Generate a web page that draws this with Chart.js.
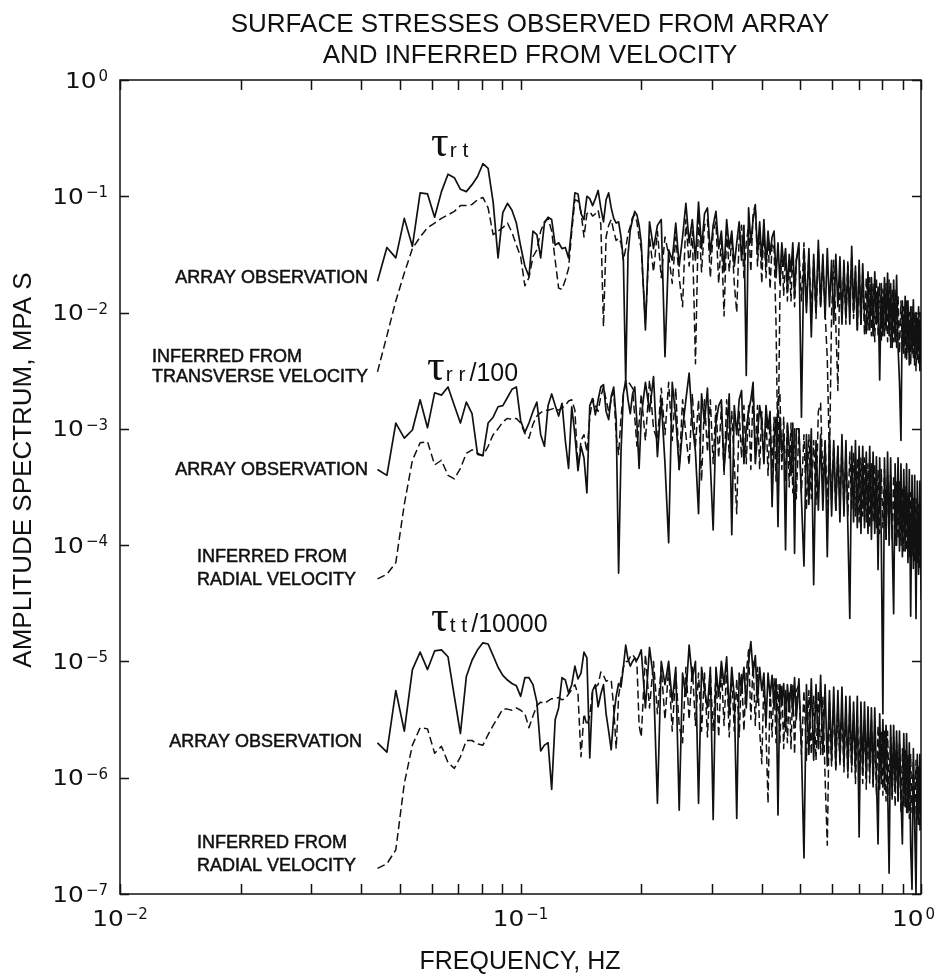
<!DOCTYPE html>
<html><head><meta charset="utf-8">
<script src="https://cdn.jsdelivr.net/npm/chart.js@4.4.1/dist/chart.umd.min.js"></script>
<style>html,body{margin:0;padding:0;background:#fff}canvas{display:block}</style>
</head><body>
<canvas id="c" width="936" height="978"></canvas>
<script>
// ---------- DATA ----------
// Spectra are sampled on FFT bins of width 1/409.6 Hz (bins 18..410)
const BIN_HZ = 1 / 409.6;
const BINS = [];
for (let k = 18; k <= 81; k++) BINS.push(k);
for (let k = 82; k <= 200; k += 2) BINS.push(k);
for (let k = 203; k <= 410; k += 3) BINS.push(k);
const FREQ = BINS.map(k => k * BIN_HZ);

// amplitude values, given as log10 (decade exponent)
const rtArrayLog = [
-1.73,-1.44,-1.53,-1.19,-1.43,-0.97,-0.98,-1.18,-0.96,-0.81,
-0.84,-0.94,-0.96,-0.90,-0.83,-0.72,-0.76,-1.05,-1.53,-1.14,
-1.06,-1.12,-1.23,-1.43,-1.60,-1.69,-1.30,-1.33,-1.53,-1.23,
-1.18,-1.20,-1.42,-1.40,-1.45,-1.44,-1.53,-1.26,-0.97,-0.98,
-1.15,-1.20,-1.00,-1.02,-1.08,-1.02,-0.95,-1.10,-1.22,-1.03,
-0.97,-1.10,-1.19,-1.23,-1.22,-1.35,-1.55,-2.60,-1.50,-1.29,
-1.20,-1.13,-1.16,-1.25,
-1.40,-2.15,-1.22,-1.45,-1.25,-1.20,-2.38,-1.46,-1.55,-1.23,
-1.60,-1.35,-1.06,-1.40,-1.20,-1.55,-1.05,-1.45,-1.15,-1.10,
-1.50,-1.25,-1.13,-1.45,-1.30,-1.65,-1.20,-1.45,-1.30,-1.60,
-1.40,-1.22,-1.55,-1.25,-2.54,-1.10,-1.40,-1.20,-1.08,-1.50,
-1.22,-1.55,-1.20,-1.60,-1.30,-1.50,-1.35,-1.30,-1.70,-1.40,
-1.75,-1.40,-1.60,-1.45,-1.80,-1.50,-1.65,-1.40,-1.85,-1.55,
-1.40,-2.90,-1.45,-2.00,-1.45,-2.21,-1.50,-2.00,-1.38,-1.95,
-1.50,-2.05,-1.45,-1.95,-1.55,-2.10,-1.50,-1.95,-1.52,-2.10,
-1.55,-2.05,-1.60,-2.10,-1.43,-2.00,-1.60,-2.15,-1.55,-2.10,
-1.58,-2.05,-2.18,-1.65,-2.15,-1.70,-2.20,-1.65,-2.10,-1.78,
-2.58,-1.75,-2.20,-1.70,-2.15,-1.66,-2.20,-1.75,-2.30,-1.72,
-2.25,-1.68,-2.30,-2.60,-3.10,-1.90,-2.35,-1.86,-2.40,-1.90,
-2.45,-1.95,-2.35,-1.89,-2.45,-2.00,-2.40,-1.95,-2.50,-2.00];

const rtInferredLog = [
-2.51,-2.20,-1.90,-1.66,-1.45,-1.35,-1.27,-1.23,-1.19,-1.16,
-1.13,-1.08,-1.08,-1.07,-1.03,-1.01,-1.10,-1.33,-1.30,-1.27,
-1.23,-1.31,-1.42,-1.52,-1.77,-1.70,-1.52,-1.46,-1.30,-1.22,
-1.19,-1.30,-1.55,-1.79,-1.80,-1.72,-1.62,-1.30,-1.03,-1.04,
-1.13,-1.35,-1.15,-1.13,-1.17,-1.15,-1.12,-1.24,-2.12,-1.35,
-1.25,-1.20,-1.30,-1.38,-1.36,-1.40,-1.55,-1.45,-1.32,-1.26,
-1.18,-1.16,-1.22,-1.36,
-1.45,-2.09,-1.35,-1.65,-1.30,-1.70,-1.35,-1.50,-1.75,-1.35,
-1.70,-1.95,-1.20,-1.60,-1.30,-2.44,-1.15,-1.65,-1.25,-1.20,
-1.70,-1.30,-1.22,-1.75,-1.35,-2.03,-1.30,-1.65,-1.35,-1.75,
-2.00,-1.35,-1.25,-1.70,-1.40,-1.25,-1.65,-1.15,-1.07,-1.60,
-1.30,-1.75,-1.25,-1.70,-1.35,-1.80,-1.40,-1.45,-2.10,-3.30,
-1.85,-1.45,-1.85,-1.50,-1.90,-1.55,-1.90,-1.45,-1.95,-1.55,
-1.45,-1.90,-1.40,-1.95,-1.50,-2.00,-1.55,-2.05,-1.45,-1.95,
-1.55,-2.00,-2.40,-3.30,-2.00,-1.55,-2.10,-2.67,-1.60,-2.05,
-1.60,-2.10,-1.55,-2.00,-1.50,-2.05,-1.65,-2.15,-1.60,-2.10,
-1.65,-2.20,-1.70,-2.15,-1.70,-2.20,-1.75,-2.25,-1.70,-2.20,
-1.75,-2.25,-1.80,-2.20,-1.75,-2.25,-1.72,-2.30,-1.80,-2.25,
-1.80,-2.30,-1.85,-2.35,-1.90,-2.30,-1.95,-2.40,-1.90,-2.35,
-2.00,-2.45,-1.95,-2.40,-2.00,-2.50,-2.05,-2.45,-2.00,-2.50];

const rrArrayLog = [
-3.35,-3.40,-2.95,-3.08,-3.01,-2.75,-2.99,-2.69,-2.71,-2.64,
-2.80,-2.95,-2.77,-2.87,-3.22,-3.23,-2.95,-2.90,-2.81,-2.80,
-2.73,-2.66,-2.64,-2.93,-3.03,-2.95,-2.85,-2.77,-3.05,-3.15,
-2.80,-2.70,-2.80,-2.89,-2.78,-3.10,-3.34,-2.81,-3.05,-3.36,
-3.15,-3.25,-3.55,-2.80,-2.74,-2.88,-2.75,-2.64,-2.62,-2.85,
-2.92,-2.72,-2.64,-2.92,-4.24,-3.20,-2.70,-2.58,-2.75,-2.87,
-2.70,-2.64,-2.95,-3.34,
-2.90,-2.60,-2.85,-2.55,-3.24,-2.75,-3.30,-3.98,-2.60,-2.90,
-3.35,-3.00,-2.75,-2.52,-2.95,-3.20,-3.73,-2.70,-2.95,-2.65,
-3.30,-3.87,-2.95,-2.80,-2.75,-3.35,-3.05,-2.70,-3.91,-2.80,
-3.05,-2.75,-2.67,-3.30,-3.00,-2.85,-2.75,-2.60,-3.30,-3.05,
-2.80,-2.95,-3.30,-2.80,-3.00,-2.85,-3.67,-3.10,-2.90,-3.84,
-2.90,-3.20,-3.05,-4.04,-2.95,-3.15,-3.40,-2.95,-4.07,-3.00,
-3.00,-3.60,-4.18,-3.05,-3.65,-3.00,-4.34,-3.10,-3.70,-3.05,
-3.70,-3.10,-4.10,-3.05,-3.75,-3.10,-3.70,-3.15,-3.80,-3.05,
-3.75,-3.10,-3.85,-4.63,-3.15,-3.80,-3.10,-3.85,-3.15,-3.90,
-3.15,-3.85,-3.20,-3.90,-3.15,-3.95,-3.20,-3.90,-3.24,-4.21,
-3.25,-3.95,-5.45,-3.25,-3.95,-3.20,-4.00,-3.25,-3.95,-4.59,
-3.30,-4.00,-3.25,-4.05,-3.30,-4.10,-3.35,-4.05,-3.30,-4.15,
-3.35,-4.61,-3.40,-4.20,-3.40,-4.63,-3.45,-4.25,-3.45,-4.47];

const rrInferredLog = [
-4.29,-4.25,-4.15,-3.65,-3.27,-3.12,-3.11,-3.31,-3.27,-3.40,
-3.43,-3.34,-3.21,-3.18,-3.21,-3.23,-3.15,-3.05,-3.00,-2.94,
-2.91,-2.92,-2.91,-2.95,-3.04,-3.08,-2.96,-2.89,-2.86,-2.84,
-2.84,-2.83,-2.82,-2.84,-2.82,-2.80,-2.76,-2.75,-2.84,-3.35,
-3.10,-3.05,-3.20,-2.90,-2.74,-2.80,-2.85,-2.72,-2.64,-2.75,
-2.85,-2.75,-2.68,-3.05,-3.22,-2.90,-2.70,-2.62,-2.59,-2.62,
-2.65,-2.90,-3.15,-2.95,
-2.70,-3.10,-2.58,-3.00,-3.10,-2.65,-3.05,-2.60,-3.10,-2.65,
-3.35,-2.75,-3.05,-3.31,-2.70,-3.15,-2.75,-3.45,-2.75,-3.20,
-2.75,-3.30,-2.80,-3.25,-2.80,-3.40,-2.75,-3.25,-2.85,-3.30,
-3.73,-2.85,-3.25,-2.80,-3.30,-2.80,-3.35,-2.65,-3.20,-2.80,
-3.35,-2.85,-3.30,-2.85,-3.40,-2.90,-3.35,-2.90,-3.45,-2.75,
-2.69,-3.35,-2.90,-3.45,-2.95,-3.50,-2.95,-3.55,-3.00,-3.60,
-3.00,-3.55,-3.05,-3.70,-3.05,-3.60,-3.10,-3.65,-2.85,-2.78,
-3.45,-3.10,-3.65,-3.10,-3.60,-3.15,-3.70,-3.15,-3.65,-3.15,
-3.70,-3.20,-3.75,-3.20,-3.70,-3.20,-3.75,-3.25,-3.80,-3.25,
-3.75,-3.25,-3.80,-3.30,-3.85,-3.30,-3.80,-3.30,-3.85,-3.35,
-3.90,-3.35,-3.85,-3.35,-3.95,-3.40,-3.90,-3.40,-3.95,-3.40,
-4.00,-3.45,-3.95,-3.45,-4.00,-3.50,-4.05,-3.50,-4.05,-3.55,
-4.10,-3.55,-4.10,-3.60,-4.15,-3.60,-4.15,-3.65,-4.20,-3.70];

const ttArrayLog = [
-5.70,-5.78,-5.25,-5.60,-5.07,-4.92,-5.07,-4.91,-4.90,-4.96,
-5.30,-5.62,-5.13,-4.99,-4.90,-4.84,-4.85,-4.95,-5.05,-5.12,
-5.16,-5.19,-5.21,-5.30,-5.14,-5.14,-5.20,-5.35,-5.77,-5.72,
-5.70,-6.10,-5.50,-5.40,-5.14,-5.16,-5.27,-5.20,-5.04,-5.15,
-5.10,-4.92,-4.97,-5.83,-5.25,-5.20,-5.39,-5.28,-5.20,-5.45,
-5.60,-5.76,-5.47,-5.30,-5.19,-5.22,-5.05,-4.86,-4.98,-5.04,
-5.00,-4.97,-4.99,-4.95,
-4.90,-5.40,-4.88,-5.15,-6.22,-5.00,-5.20,-5.00,-5.35,-5.05,
-6.28,-5.10,-5.30,-4.86,-5.15,-5.00,-6.22,-5.05,-5.25,-5.40,
-5.05,-6.36,-5.05,-5.30,-5.00,-5.20,-4.96,-5.45,-5.05,-5.30,
-6.35,-5.10,-5.25,-5.05,-5.40,-5.00,-4.83,-5.10,-4.95,-5.35,
-5.05,-5.25,-5.10,-5.55,-5.10,-5.30,-5.12,-5.40,-5.15,-6.32,
-5.20,-5.35,-5.19,-5.60,-5.20,-5.40,-5.20,-5.45,-5.14,-5.50,
-5.15,-5.75,-6.69,-5.20,-5.80,-5.15,-5.85,-5.20,-5.75,-5.12,
-5.80,-5.20,-5.90,-5.25,-5.85,-5.22,-5.90,-5.25,-5.85,-5.22,
-5.90,-5.30,-5.95,-5.30,-5.90,-5.35,-5.95,-5.30,-6.51,-5.35,
-5.95,-5.35,-6.00,-5.39,-5.95,-5.40,-6.05,-5.40,-6.00,-6.57,
-5.45,-6.05,-5.50,-6.10,-5.55,-6.05,-6.82,-5.55,-6.15,-5.55,
-6.10,-5.60,-6.20,-5.60,-6.15,-6.57,-5.62,-6.25,-5.62,-6.30,
-5.70,-6.60,-6.96,-5.75,-6.40,-7.00,-5.80,-6.40,-5.80,-6.45];

const ttInferredLog = [
-6.78,-6.74,-6.62,-6.05,-5.72,-5.57,-5.58,-5.79,-5.73,-5.87,
-5.92,-5.82,-5.68,-5.68,-5.71,-5.72,-5.63,-5.55,-5.48,-5.41,
-5.41,-5.42,-5.40,-5.42,-5.45,-5.57,-5.47,-5.38,-5.35,-5.36,
-5.34,-5.32,-5.32,-5.31,-5.33,-5.32,-5.28,-5.24,-5.20,-5.28,
-5.82,-5.45,-5.55,-5.47,-5.24,-5.22,-5.20,-5.09,-5.12,-5.17,
-5.16,-5.16,-5.40,-5.75,-5.30,-5.15,-5.05,-5.00,-5.00,-4.96,
-4.94,-4.97,-5.02,-5.55,
-5.65,-4.94,-5.40,-5.00,-5.45,-5.05,-5.50,-5.05,-5.60,-5.10,
-5.55,-5.70,-5.05,-5.50,-5.05,-5.55,-5.10,-5.60,-5.10,-5.65,
-5.10,-5.60,-5.10,-5.65,-5.05,-5.55,-5.05,-5.65,-5.10,-5.60,
-5.15,-5.65,-5.10,-5.60,-5.10,-4.90,-5.50,-5.00,-5.55,-5.05,
-5.60,-5.88,-5.15,-5.60,-6.22,-5.20,-5.65,-5.15,-5.70,-5.20,
-5.70,-5.20,-5.75,-5.25,-5.70,-5.25,-5.75,-5.20,-5.80,-5.25,
-5.20,-5.80,-5.25,-5.85,-5.25,-5.80,-5.30,-5.85,-5.25,-5.80,
-5.30,-6.00,-6.58,-5.35,-5.90,-5.35,-5.95,-5.35,-5.90,-5.40,
-5.95,-5.40,-6.00,-5.40,-5.95,-5.45,-6.05,-5.45,-6.00,-5.45,
-6.05,-5.50,-6.10,-5.50,-6.05,-5.50,-6.10,-5.55,-6.15,-5.55,
-6.10,-5.60,-6.15,-5.60,-6.20,-5.60,-6.15,-5.65,-6.20,-5.65,
-6.25,-5.70,-6.20,-5.70,-6.30,-5.75,-6.25,-5.75,-6.30,-5.80,
-6.35,-5.80,-6.30,-5.85,-6.40,-5.85,-6.35,-5.90,-6.45,-5.90];

// axis ticks
const X_TICKS = [0.01,0.02,0.03,0.04,0.05,0.06,0.07,0.08,0.09,0.1,0.2,0.3,0.4,0.5,0.6,0.7,0.8,0.9,1];
const X_LABEL_EXP = [-2,-1,0];
const Y_LABEL_EXP = [0,-1,-2,-3,-4,-5,-6,-7];

// texts
const TITLE = ['SURFACE STRESSES OBSERVED FROM ARRAY', 'AND INFERRED FROM VELOCITY'];
const X_TITLE = 'FREQUENCY, HZ';
const Y_TITLE = 'AMPLITUDE SPECTRUM, MPA S';
const NOTES = [
  {t:'ARRAY OBSERVATION', x:368, y:278, align:'right'},
  {t:'INFERRED FROM', x:152, y:357, align:'left'},
  {t:'TRANSVERSE VELOCITY', x:152, y:377, align:'left'},
  {t:'ARRAY OBSERVATION', x:368, y:470, align:'right'},
  {t:'INFERRED FROM', x:197, y:557, align:'left'},
  {t:'RADIAL VELOCITY', x:197, y:580, align:'left'},
  {t:'ARRAY OBSERVATION', x:362, y:742, align:'right'},
  {t:'INFERRED FROM', x:197, y:843, align:'left'},
  {t:'RADIAL VELOCITY', x:197, y:866, align:'left'}
];
const TAUS = [
  {sub:'r t', tail:'', x:431, y:156},
  {sub:'r r', tail:'/100', x:427, y:380},
  {sub:'t t', tail:'/10000', x:431, y:631}
];

// ---------- CHART ----------
const pts = arr => FREQ.map((f, i) => ({x: f, y: Math.pow(10, arr[i])}));
const INK = '#111';
const solid = (label, arr) => ({label, data: pts(arr), borderColor: INK, borderWidth: 1.7, pointRadius: 0, borderJoinStyle: 'round', fill: false});
const dashed = (label, arr) => Object.assign(solid(label, arr), {borderDash: [8, 4], borderWidth: 1.5});

const SANS = '"Liberation Sans", Arial, sans-serif';
const TICKF = '"DejaVu Sans", sans-serif';

function pow10(ctx, exp, cx, cy, align) {
  const ex = exp < 0 ? '\u2212' + Math.abs(exp) : String(exp);
  const SX = 1.18;
  ctx.font = '21px ' + TICKF;
  const wb = ctx.measureText('10').width * SX;
  ctx.font = '15px ' + TICKF;
  const ws = ctx.measureText(ex).width;
  const gap = 2;
  const total = wb + gap + ws;
  let left = align === 'right' ? cx - total : cx - total / 2;
  if (left + total > 935) left = 935 - total;
  ctx.textAlign = 'left';
  ctx.textBaseline = 'alphabetic';
  ctx.save();
  ctx.translate(left, cy + 7.5);
  ctx.scale(SX, 1);
  ctx.font = '21px ' + TICKF;
  ctx.fillText('10', 0, 0);
  ctx.restore();
  ctx.font = '15px ' + TICKF;
  ctx.fillText(ex, left + wb + gap, cy + 1);
}

const deco = {
  id: 'deco',
  afterDraw(chart) {
    const {ctx, chartArea: a, scales: {x, y}} = chart;
    ctx.save();
    ctx.strokeStyle = INK;
    ctx.fillStyle = INK;
    ctx.lineWidth = 1.5;
    ctx.strokeRect(a.left, a.top, a.right - a.left, a.bottom - a.top);
    ctx.beginPath();
    X_TICKS.forEach(v => {
      const px = Math.round(x.getPixelForValue(v)) + 0.5;
      ctx.moveTo(px, a.bottom); ctx.lineTo(px, a.bottom - 10);
      ctx.moveTo(px, a.top); ctx.lineTo(px, a.top + 10);
    });
    Y_LABEL_EXP.forEach(e => {
      const py = Math.round(y.getPixelForValue(Math.pow(10, e))) + 0.5;
      ctx.moveTo(a.left, py); ctx.lineTo(a.left + 9, py);
      ctx.moveTo(a.right, py); ctx.lineTo(a.right - 9, py);
    });
    ctx.stroke();
    X_LABEL_EXP.forEach(e => pow10(ctx, e, x.getPixelForValue(Math.pow(10, e)), 918, 'center'));
    Y_LABEL_EXP.forEach(e => pow10(ctx, e, 108, y.getPixelForValue(Math.pow(10, e)), 'right'));
    ctx.textAlign = 'center';
    ctx.textBaseline = 'middle';
    ctx.font = '26px ' + SANS;
    ctx.fillText(TITLE[0], 530, 25);
    ctx.fillText(TITLE[1], 530, 56);
    ctx.font = '25px ' + SANS;
    ctx.fillText(X_TITLE, 520, 962);
    ctx.save();
    ctx.translate(24, 470);
    ctx.rotate(-Math.PI / 2);
    ctx.font = '26px ' + SANS;
    ctx.fillText(Y_TITLE, 0, 0);
    ctx.restore();
    ctx.font = '18px ' + SANS;
    ctx.lineWidth = 0.5;
    NOTES.forEach(n => { ctx.textAlign = n.align; ctx.fillText(n.t, n.x, n.y); ctx.strokeText(n.t, n.x, n.y); });
    ctx.textAlign = 'left';
    ctx.textBaseline = 'alphabetic';
    TAUS.forEach(t => {
      ctx.font = '44px "Liberation Serif", serif';
      ctx.fillText('\u03C4', t.x, t.y);
      let xx = t.x + ctx.measureText('\u03C4').width + 1;
      ctx.font = '21px ' + SANS;
      ctx.fillText(t.sub, xx, t.y + 1);
      xx += ctx.measureText(t.sub).width + 4;
      if (t.tail) { ctx.font = '25px ' + SANS; ctx.fillText(t.tail, xx, t.y + 1); }
    });
    ctx.restore();
  }
};

new Chart(document.getElementById('c'), {
  type: 'line',
  data: {
    datasets: [
      solid('τrt array observation', rtArrayLog),
      solid('τrr/100 array observation', rrArrayLog),
      solid('τtt/10000 array observation', ttArrayLog),
      dashed('τrt inferred from transverse velocity', rtInferredLog),
      dashed('τrr/100 inferred from radial velocity', rrInferredLog),
      dashed('τtt/10000 inferred from radial velocity', ttInferredLog)
    ]
  },
  options: {
    responsive: false,
    animation: false,
    devicePixelRatio: 1,
    layout: {padding: {left: 120, top: 80, right: 15, bottom: 84}},
    elements: {line: {tension: 0}},
    scales: {
      x: {type: 'logarithmic', min: 0.01, max: 1, display: false},
      y: {type: 'logarithmic', min: 1e-7, max: 1, display: false}
    },
    plugins: {legend: {display: false}, tooltip: {enabled: false}}
  },
  plugins: [deco]
});
</script>
</body></html>
